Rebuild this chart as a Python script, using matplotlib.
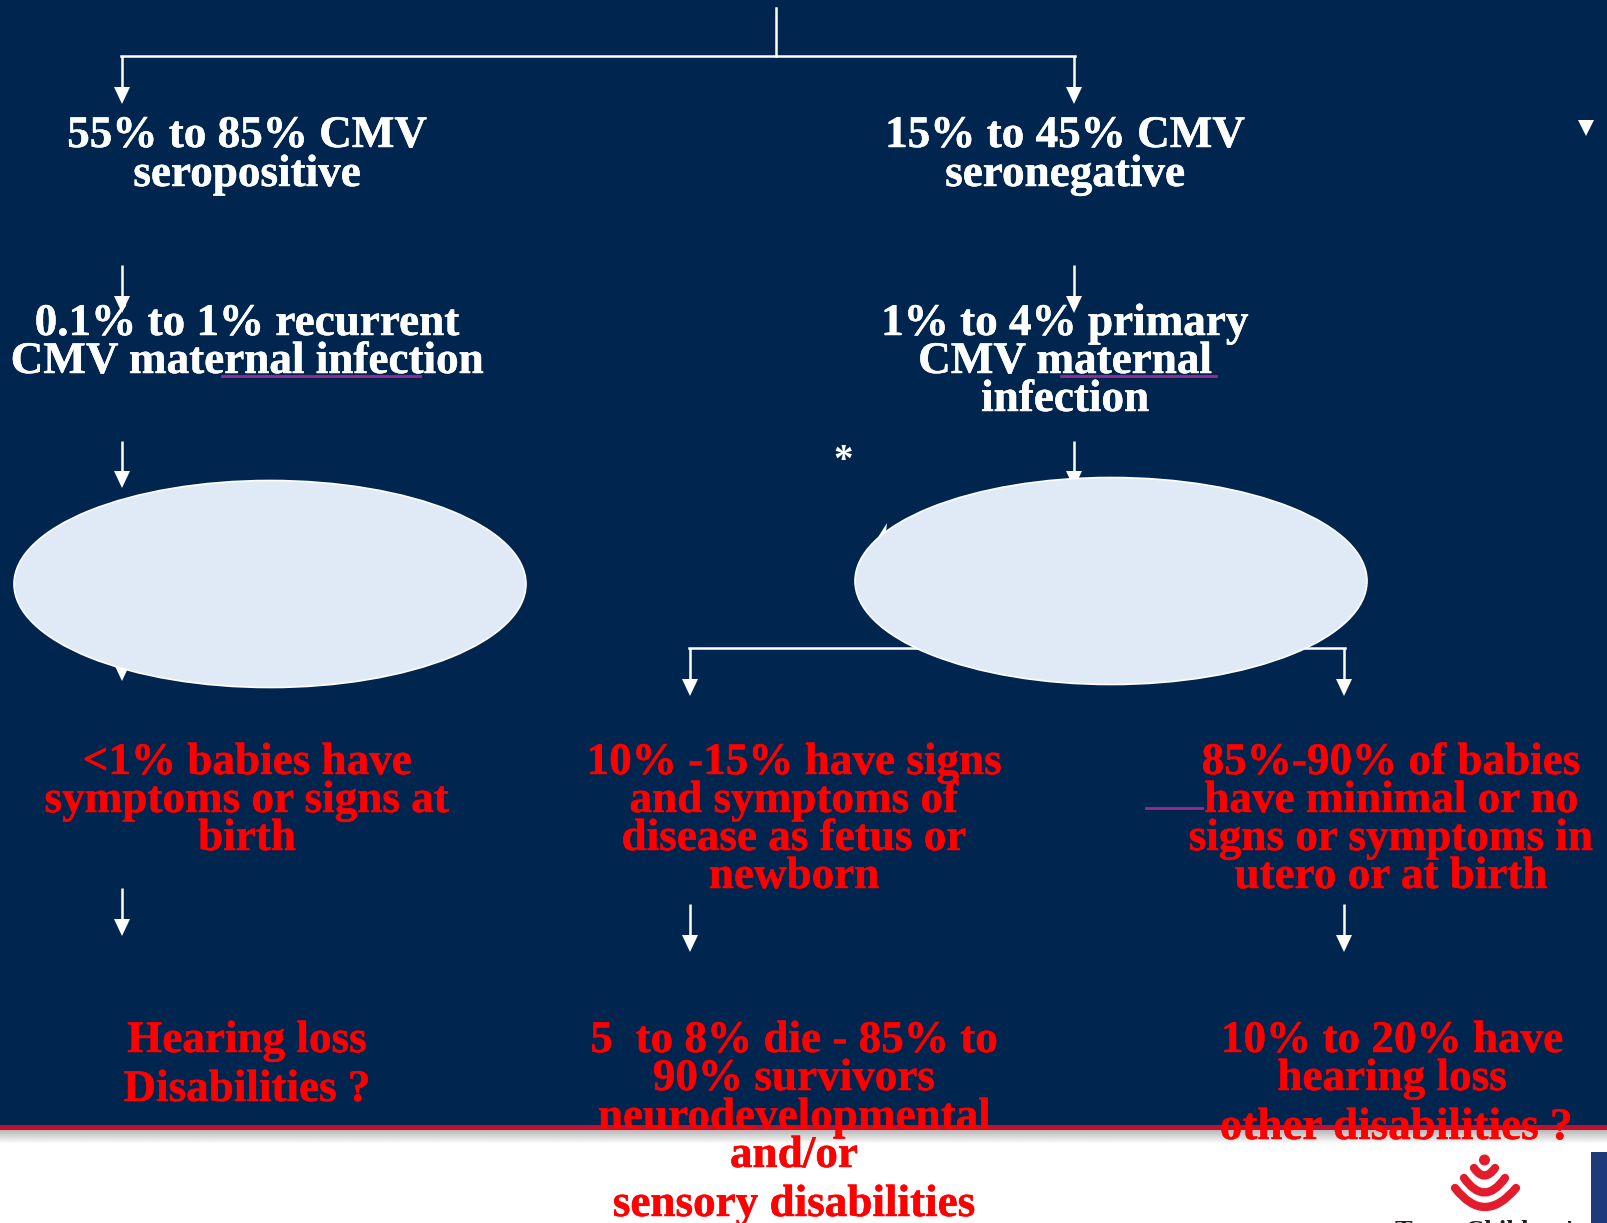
import numpy as np
import matplotlib
matplotlib.use("Agg")
import matplotlib.pyplot as plt
import matplotlib.patheffects as pe
from matplotlib.patches import Ellipse, Rectangle, Polygon, PathPatch, Circle
from matplotlib.path import Path

# Flow chart wording, one list per block of lines
seropos = ["55% to 85% CMV", "seropositive"]
seroneg = ["15% to 45% CMV", "seronegative"]
recurrent = ["0.1% to 1% recurrent", "CMV maternal infection"]
primary = ["1% to 4% primary", "CMV maternal", "infection"]
out_left = ["<1% babies have", "symptoms or signs at", "birth"]
out_mid = ["10% -15% have signs", "and symptoms of", "disease as fetus or", "newborn"]
out_right = ["85%-90% of babies", "have minimal or no", "signs or symptoms in", "utero or at birth"]
late_left = ["Hearing loss", "Disabilities ?"]
late_mid = ["5  to 8% die - 85% to", "90% survivors", "neurodevelopmental", "and/or", "sensory disabilities"]
late_right = ["10% to 20% have", "hearing loss"]
late_right_last = "other disabilities ?"
brand = "Texas Children's"

NAVY = "#00264F"
WHITE = "#FFFFFF"
RED = "#FF0000"
PALE = "#E0EAF6"
PURPLE = "#9B2A8E"
BRAND_RED = "#E31C2D"
FS = 32.5
LINE_W = 1.8

fig = plt.figure(figsize=(16.08, 12.23), dpi=100, facecolor=WHITE)
ax = fig.add_axes([0, 0, 1, 1])
ax.set_xlim(0, 1608)
ax.set_ylim(1223, 0)
ax.axis("off")

# Background panels and the footer rule with its soft shadow
ax.add_patch(Rectangle((0, 0), 1608, 1128, fc=NAVY, ec="none", zorder=0))
shade = np.linspace(0.72, 1.0, 40).reshape(-1, 1)
ax.imshow(shade, cmap="gray", vmin=0, vmax=1, extent=(0, 1608, 1144, 1130),
          aspect="auto", zorder=0.5)
ax.set_xlim(0, 1608)
ax.set_ylim(1223, 0)
ax.add_patch(Rectangle((0, 1125), 1608, 5, fc="#C30F2E", ec="none", zorder=1))
ax.add_patch(Rectangle((1591, 1152), 17, 71, fc="#1F3A7A", ec="none", zorder=1))


def arrow(x, y0, y1, z=2):
    """Vertical white connector ending in a filled triangular head."""
    ax.plot([x, x], [y0, y1 - 14], color=WHITE, lw=LINE_W, solid_capstyle="butt", zorder=z)
    ax.add_patch(Polygon([(x - 8, y1 - 17), (x + 8, y1 - 17), (x, y1)],
                         fc=WHITE, ec="none", zorder=z))


def heavy(color, width=0.35):
    return [pe.withStroke(linewidth=width, foreground=color)]


def block(lines, x, baselines, color):
    for line, y in zip(lines, baselines):
        ax.text(x, y, line, color=color, family="Liberation Serif", weight="bold",
                fontsize=FS, ha="center", va="baseline", zorder=5,
                path_effects=heavy(color))


# Connectors
ax.plot([776, 776], [8, 56], color=WHITE, lw=LINE_W, zorder=2)
ax.plot([121, 1075], [56, 56], color=WHITE, lw=LINE_W, zorder=2)
for x in (122, 1074):
    arrow(x, 56, 104)
    arrow(x, 265, 313)
    arrow(x, 441, 488)
arrow(122, 640, 681)
ax.plot([689, 1345], [648, 648], color=WHITE, lw=LINE_W, zorder=2)
arrow(690, 648, 696)
arrow(1344, 648, 696)
arrow(122, 888, 936)
arrow(690, 904, 952)
arrow(1344, 904, 952)
ax.add_patch(Polygon([(1578, 120), (1594, 120), (1586, 136)], fc=WHITE, ec="none", zorder=2))
ax.add_patch(Polygon([(887, 523), (875, 542), (885, 541)], fc=WHITE, ec="none", zorder=2))

# Ellipses sit on top of the connectors
ax.add_patch(Ellipse((270, 584), 512, 207, fc=PALE, ec=WHITE, lw=1.2, zorder=3))
ax.add_patch(Ellipse((1111, 581), 512, 207, fc=PALE, ec=WHITE, lw=1.2, zorder=3))

# Underlines and the stray rule beside the right-hand outcome
ax.plot([222, 420], [376, 376], color=PURPLE, lw=2.0, zorder=6)
ax.plot([1061, 1216], [376, 376], color=PURPLE, lw=2.0, zorder=6)
ax.plot([1146, 1202], [808, 808], color=PURPLE, lw=2.0, zorder=6)

# Text blocks
block(seropos, 247, [147, 186], WHITE)
block(seroneg, 1065, [147, 186], WHITE)
block(recurrent, 247, [335, 373], WHITE)
block(primary, 1065, [335, 373, 411], WHITE)
block(out_left, 247, [774, 812, 850], RED)
block(out_mid, 794, [774, 812, 850, 888], RED)
block(out_right, 1391, [774, 812, 850, 888], RED)
block(late_left, 247, [1052, 1101], RED)
block(late_mid, 794, [1052, 1090, 1129, 1167, 1216], RED)
block(late_right, 1392, [1052, 1090], RED)
block([late_right_last], 1396, [1139], RED)
ax.text(843, 471.5, "*", color=WHITE, family="Liberation Serif", weight="bold",
        fontsize=28, ha="center", va="baseline", zorder=5)

# Brand mark: dot above three nested chevrons
ax.add_patch(Circle((1484.5, 1160), 5.5, fc=BRAND_RED, ec="none", zorder=4))
chevrons = [
    [(1474, 1168), (1484.5, 1183), (1495, 1168)],
    [(1464, 1178), (1484.5, 1207), (1505, 1178)],
    [(1455, 1188), (1484.5, 1226), (1516, 1188)],
]
for a, b, c in chevrons:
    path = Path([a, b, c], [Path.MOVETO, Path.CURVE3, Path.CURVE3])
    ax.add_patch(PathPatch(path, fc="none", ec=BRAND_RED, lw=6, capstyle="round", zorder=4))
ax.text(1395, 1237.5, brand, color="#231F20", family="Liberation Serif", weight="bold",
        fontsize=19, ha="left", va="baseline", zorder=4, clip_on=True)

fig.savefig("out.png", dpi=100, facecolor=WHITE)
